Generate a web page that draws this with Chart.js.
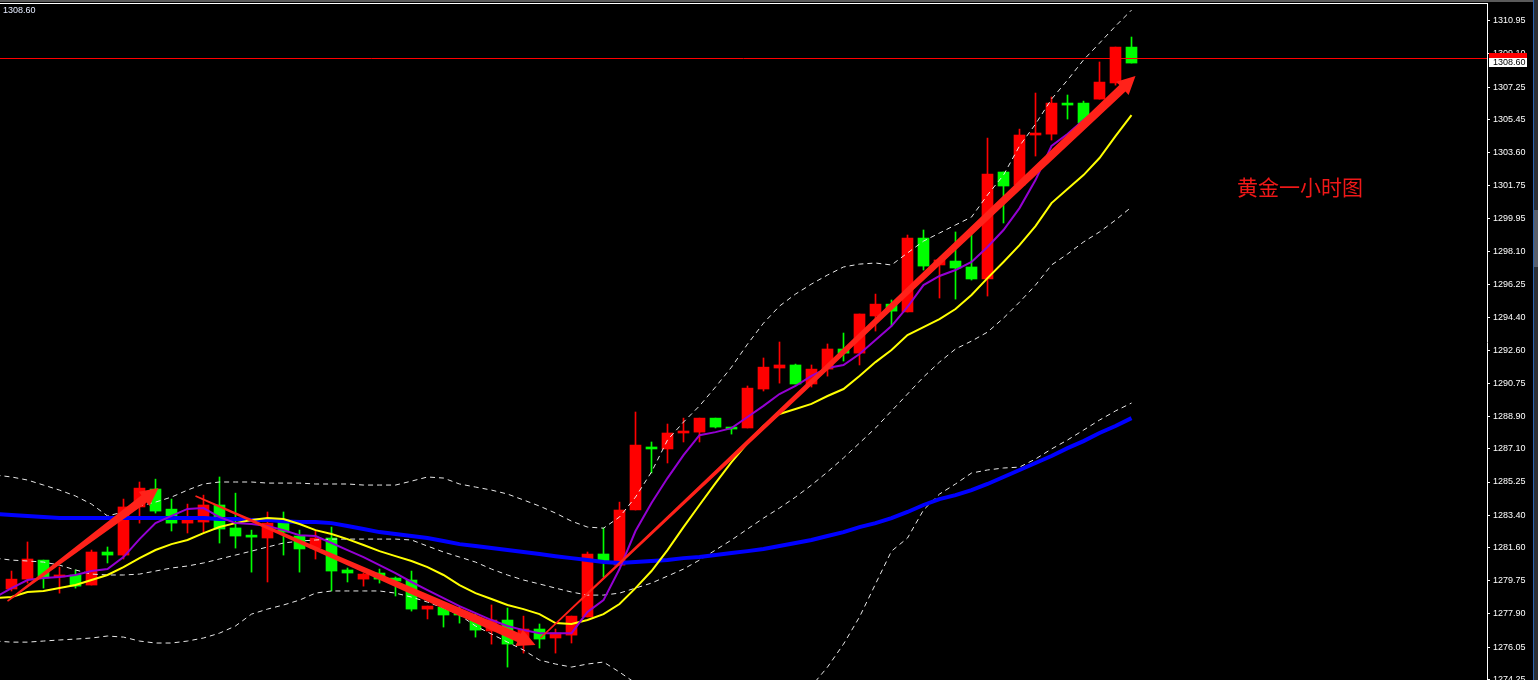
<!DOCTYPE html>
<html>
<head>
<meta charset="utf-8">
<script src="https://cdn.jsdelivr.net/npm/chart.js@4.4.1/dist/chart.umd.min.js"></script>
<style>
    html, body { margin: 0; padding: 0; background: #000; overflow: hidden; }
    #gold_h1_chart { display: block; }
</style>
</head>
<body>
<canvas id="gold_h1_chart" width="1538" height="680"></canvas>
<script>
// H1 candles, bar 0 = first full candle on the left
const opens = [1279.29, 1279.84, 1280.90, 1279.96, 1280.07, 1279.51, 1281.35, 1281.18, 1283.86, 1284.86,
    1283.74, 1282.96, 1283.02, 1283.97, 1282.69, 1282.29, 1282.13, 1283.13, 1282.24, 1281.57,
    1282.13, 1280.35, 1279.84, 1280.18, 1279.90, 1279.79, 1278.17, 1278.28, 1278.01, 1277.56,
    1276.95, 1277.56, 1276.56, 1277.06, 1276.56, 1276.72, 1277.73, 1281.24, 1280.62, 1283.69,
    1287.20, 1287.09, 1287.98, 1288.03, 1288.81, 1288.31, 1288.26, 1290.43, 1291.60, 1291.77,
    1290.71, 1291.54, 1292.66, 1292.43, 1294.50, 1295.16, 1294.72, 1298.84, 1297.34, 1297.56,
    1297.23, 1296.56, 1302.52, 1301.79, 1304.58, 1304.63, 1306.31, 1306.36, 1306.58, 1307.48,
    1309.48];
const highs = [1280.29, 1281.91, 1280.90, 1280.51, 1280.35, 1281.46, 1281.63, 1284.30, 1285.25, 1285.41,
    1284.30, 1284.02, 1284.52, 1285.53, 1284.63, 1282.57, 1283.58, 1283.58, 1282.57, 1282.52,
    1282.74, 1280.46, 1280.18, 1280.40, 1279.96, 1280.29, 1278.34, 1278.40, 1278.28, 1277.89,
    1278.40, 1278.23, 1277.78, 1277.34, 1277.06, 1277.78, 1281.35, 1282.69, 1284.13, 1289.15,
    1287.48, 1288.48, 1288.81, 1288.81, 1288.81, 1288.31, 1290.60, 1292.16, 1293.05, 1291.82,
    1291.77, 1292.94, 1293.55, 1294.61, 1295.72, 1295.39, 1299.01, 1299.29, 1297.62, 1299.18,
    1299.01, 1304.41, 1302.52, 1304.91, 1306.92, 1306.70, 1306.81, 1306.47, 1308.65, 1309.48,
    1310.04];
const lows = [1279.18, 1279.62, 1279.34, 1279.06, 1279.34, 1279.51, 1280.74, 1280.96, 1282.96, 1283.52,
    1282.52, 1282.41, 1282.46, 1281.85, 1281.57, 1280.23, 1279.68, 1281.18, 1280.23, 1280.96,
    1279.18, 1279.68, 1279.45, 1279.62, 1278.90, 1278.06, 1277.62, 1277.17, 1277.39, 1276.61,
    1276.22, 1274.94, 1275.72, 1276.00, 1275.72, 1276.28, 1277.73, 1279.96, 1280.62, 1283.69,
    1285.75, 1286.31, 1287.48, 1287.48, 1288.26, 1287.92, 1288.26, 1290.32, 1290.76, 1290.71,
    1290.54, 1291.15, 1291.99, 1291.77, 1293.66, 1293.94, 1294.72, 1297.06, 1295.50, 1295.44,
    1296.50, 1295.61, 1299.68, 1301.79, 1303.41, 1304.30, 1305.47, 1305.25, 1306.58, 1307.36,
    1308.59];
const closes = [1279.84, 1280.96, 1279.90, 1280.07, 1279.45, 1281.35, 1281.18, 1283.86, 1284.91, 1283.63,
    1282.96, 1283.13, 1283.97, 1282.63, 1282.24, 1282.18, 1282.96, 1282.46, 1281.52, 1282.13,
    1280.29, 1280.18, 1280.12, 1279.84, 1279.73, 1278.17, 1278.34, 1277.84, 1277.84, 1277.00,
    1277.56, 1276.22, 1277.06, 1276.50, 1276.84, 1277.78, 1281.24, 1280.79, 1283.69, 1287.31,
    1287.09, 1287.98, 1288.09, 1288.81, 1288.31, 1288.20, 1290.48, 1291.65, 1291.77, 1290.71,
    1291.54, 1292.66, 1292.43, 1294.61, 1295.16, 1294.77, 1298.84, 1297.28, 1297.62, 1297.17,
    1296.56, 1302.41, 1301.74, 1304.58, 1304.69, 1306.36, 1306.25, 1305.25, 1307.53, 1309.48,
    1308.59];

// indicator lines, first value belongs to bar -1 (cut at left edge)
const lineStart = -1;
const ma5 = [1278.84, 1279.34, 1279.79, 1279.90, 1279.96, 1280.07, 1280.29, 1280.40, 1281.07, 1282.07,
    1282.96, 1283.36, 1283.75, 1283.80, 1283.30, 1282.96, 1282.91, 1282.80, 1282.57, 1282.29,
    1282.24, 1281.85, 1281.46, 1281.07, 1280.62, 1280.18, 1279.68, 1279.23, 1278.78, 1278.34,
    1277.95, 1277.56, 1277.23, 1277.00, 1276.83, 1276.83, 1276.83, 1278.01, 1278.67, 1280.40,
    1282.52, 1284.08, 1285.47, 1286.75, 1287.86, 1288.03, 1288.25, 1288.87, 1289.49, 1290.15,
    1290.60, 1291.16, 1291.60, 1291.77, 1292.38, 1293.16, 1293.94, 1295.00, 1296.22, 1296.73,
    1297.06, 1297.51, 1298.34, 1299.29, 1300.51, 1302.07, 1303.97, 1304.64, 1305.41, 1306.08,
    1306.98, 1307.42];
const ma10 = [1278.78, 1278.84, 1279.12, 1279.18, 1279.34, 1279.51, 1279.79, 1280.07, 1280.51, 1281.01,
    1281.46, 1281.79, 1282.02, 1282.40, 1282.74, 1282.96, 1283.13, 1283.24, 1283.19, 1282.91,
    1282.57, 1282.35, 1282.07, 1281.74, 1281.40, 1281.12, 1280.85, 1280.51, 1280.07, 1279.51,
    1279.06, 1278.73, 1278.40, 1278.17, 1277.89, 1277.39, 1277.34, 1277.56, 1277.89, 1278.45,
    1279.34, 1280.29, 1281.46, 1282.74, 1283.97, 1285.19, 1286.36, 1287.42, 1288.37, 1289.04,
    1289.32, 1289.60, 1290.04, 1290.43, 1291.16, 1291.93, 1292.60, 1293.44, 1293.88, 1294.33,
    1294.89, 1295.67, 1296.61, 1297.51, 1298.45, 1299.51, 1300.79, 1301.57, 1302.35, 1303.30,
    1304.52, 1305.69];
const maLong = [1283.47, 1283.41, 1283.36, 1283.30, 1283.24, 1283.24, 1283.24, 1283.24, 1283.24, 1283.24,
    1283.24, 1283.24, 1283.24, 1283.24, 1283.19, 1283.19, 1283.13, 1283.13, 1283.07, 1283.02,
    1283.02, 1282.96, 1282.80, 1282.63, 1282.46, 1282.35, 1282.24, 1282.13, 1281.96, 1281.79,
    1281.68, 1281.57, 1281.46, 1281.35, 1281.24, 1281.12, 1281.01, 1280.90, 1280.79, 1280.74,
    1280.79, 1280.85, 1280.90, 1281.01, 1281.07, 1281.18, 1281.29, 1281.40, 1281.52, 1281.68,
    1281.85, 1282.02, 1282.24, 1282.46, 1282.74, 1282.96, 1283.24, 1283.58, 1283.97, 1284.30,
    1284.52, 1284.80, 1285.14, 1285.53, 1285.92, 1286.31, 1286.70, 1287.14, 1287.53, 1287.98,
    1288.37, 1288.81];
const bbUpper = [1285.64, 1285.53, 1285.36, 1285.08, 1284.80, 1284.47, 1284.02, 1283.36, 1283.58, 1283.91,
    1284.13, 1284.41, 1284.80, 1285.14, 1285.25, 1285.25, 1285.25, 1285.19, 1285.19, 1285.19,
    1285.14, 1285.14, 1285.14, 1285.08, 1285.08, 1285.08, 1285.30, 1285.53, 1285.47, 1285.14,
    1284.97, 1284.80, 1284.58, 1284.25, 1283.91, 1283.52, 1283.07, 1282.74, 1282.68, 1283.30,
    1284.41, 1285.81, 1287.59, 1288.59, 1289.49, 1290.54, 1291.65, 1292.93, 1294.10, 1295.05,
    1295.72, 1296.28, 1296.78, 1297.23, 1297.39, 1297.45, 1297.34, 1298.01, 1298.67, 1299.12,
    1299.57, 1300.01, 1301.24, 1302.35, 1303.97, 1305.19, 1306.58, 1307.64, 1308.76, 1309.70,
    1310.65, 1311.54];
const bbMiddle = [1281.01, 1280.90, 1280.85, 1280.79, 1280.62, 1280.35, 1280.12, 1280.07, 1280.07, 1280.12,
    1280.29, 1280.46, 1280.57, 1280.74, 1280.96, 1281.18, 1281.40, 1281.63, 1281.85, 1281.96,
    1282.02, 1282.07, 1282.07, 1282.07, 1282.07, 1282.07, 1282.02, 1281.68, 1281.35, 1281.07,
    1280.79, 1280.40, 1280.07, 1279.79, 1279.57, 1279.34, 1279.12, 1278.95, 1278.95, 1279.06,
    1279.34, 1279.62, 1280.01, 1280.40, 1280.90, 1281.46, 1282.02, 1282.63, 1283.24, 1283.80,
    1284.41, 1285.08, 1285.81, 1286.59, 1287.42, 1288.26, 1289.21, 1290.15, 1291.10, 1291.93,
    1292.66, 1293.10, 1293.60, 1294.38, 1295.27, 1296.22, 1297.34, 1297.95, 1298.62, 1299.18,
    1299.84, 1300.57];
const bbLower = [1276.39, 1276.33, 1276.33, 1276.39, 1276.45, 1276.50, 1276.56, 1276.67, 1276.61, 1276.39,
    1276.28, 1276.28, 1276.39, 1276.56, 1276.83, 1277.23, 1277.89, 1278.17, 1278.40, 1278.67,
    1279.06, 1279.18, 1279.18, 1279.18, 1279.18, 1279.06, 1278.84, 1278.56, 1278.23, 1277.84,
    1277.23, 1276.78, 1276.33, 1275.89, 1275.33, 1275.11, 1274.94, 1275.11, 1275.22, 1274.66,
    1274.05, 1273.44, 1272.83, 1272.43, 1272.27, 1272.32, 1272.38, 1272.38, 1272.43, 1272.60,
    1273.10, 1273.88, 1274.94, 1276.22, 1277.73, 1279.57, 1281.40, 1282.13, 1283.69, 1284.58,
    1285.14, 1285.75, 1285.92, 1286.03, 1286.08, 1286.53, 1287.09, 1287.59, 1288.14, 1288.70,
    1289.21, 1289.65];

const yTicks = [1310.95, 1309.10, 1307.25, 1305.45, 1303.60, 1301.75, 1299.95, 1298.10, 1296.25, 1294.40,
    1292.60, 1290.75, 1288.90, 1287.10, 1285.25, 1283.40, 1281.60, 1279.75, 1277.90, 1276.05, 1274.25];
const lastPrice = 1308.60;
const priceLine = 1308.85;

// hand drawn arrows: [from bar, from price, to bar, to price]
const arrows = [
    [-0.25, 1278.62, 9.19, 1284.91],
    [11.5, 1284.47, 32.75, 1276.17],
    [33.06, 1276.56, 70.25, 1307.87]
];
const title = "黄金一小时图";
const titleBar = 76.6;
const titlePrice = 1301.69;

const UP = "#ff0000", DOWN = "#00ff00";
const candleColors = opens.map((o, i) => closes[i] >= o ? UP : DOWN);
const toLine = arr => arr.map((v, k) => ({x: k + lineStart, y: v}));

const chartDecor = {
    id: "chartDecor",
    beforeDraw(chart) {
        let c = chart.ctx;
        c.save();
        c.fillStyle = "#000";
        c.fillRect(0, 0, chart.width, chart.height);
        c.restore();
    },
    afterDatasetsDraw(chart) {
        let c = chart.ctx, xs = chart.scales.x, ys = chart.scales.y, area = chart.chartArea;
        c.save();
        c.beginPath();
        c.rect(area.left, area.top, area.right - area.left, area.bottom - area.top);
        c.clip();

        // horizontal price line
        let ly = Math.round(ys.getPixelForValue(priceLine)) + 0.5;
        c.strokeStyle = "#ff0000";
        c.lineWidth = 1;
        c.beginPath();
        c.moveTo(area.left, ly);
        c.lineTo(area.right, ly);
        c.stroke();

        // tapered arrows
        c.fillStyle = "rgb(255,34,26)";
        arrows.forEach(a => {
            let x0 = xs.getPixelForValue(a[0]), y0 = ys.getPixelForValue(a[1]);
            let x1 = xs.getPixelForValue(a[2]), y1 = ys.getPixelForValue(a[3]);
            let len = Math.hypot(x1 - x0, y1 - y0);
            let ux = (x1 - x0) / len, uy = (y1 - y0) / len;
            let nx = -uy, ny = ux;
            let headLen = 18, headHalf = 9, w0 = 0.8, w1 = 4.5;
            let bx = x1 - ux * headLen, by = y1 - uy * headLen;
            c.beginPath();
            c.moveTo(x0 + nx * w0, y0 + ny * w0);
            c.lineTo(bx + nx * w1, by + ny * w1);
            c.lineTo(bx + nx * headHalf, by + ny * headHalf);
            c.lineTo(x1, y1);
            c.lineTo(bx - nx * headHalf, by - ny * headHalf);
            c.lineTo(bx - nx * w1, by - ny * w1);
            c.lineTo(x0 - nx * w0, y0 - ny * w0);
            c.closePath();
            c.fill();
        });

        c.fillStyle = "#f01818";
        c.font = '21px "Noto Sans CJK SC"';
        c.textBaseline = "middle";
        c.fillText(title, xs.getPixelForValue(titleBar), ys.getPixelForValue(titlePrice));
        c.restore();
    },
    afterDraw(chart) {
        let c = chart.ctx, ys = chart.scales.y, area = chart.chartArea;
        c.save();
        // window frame bits
        c.fillStyle = "#5a5a5a";
        c.fillRect(0, 0, chart.width, 2);
        c.fillStyle = "#ffffff";
        c.fillRect(0, 3, area.right + 1, 1);
        c.fillStyle = "#2c3036";
        c.fillRect(1533, 0, 5, chart.height);
        c.fillStyle = "#2a64b0";
        c.fillRect(1533, 0, 1, chart.height);
        c.fillStyle = "#59606c";
        c.fillRect(1534, 210, 4, 57);

        // price tags on the axis
        let ly = Math.round(ys.getPixelForValue(priceLine));
        c.fillStyle = "#ff0000";
        c.fillRect(area.right + 2, ly - 5, 38, 5);
        c.fillStyle = "#ffffff";
        c.fillRect(area.right + 2, ly, 38, 9);
        c.font = '9px "Liberation Sans"';
        c.textBaseline = "middle";
        c.fillStyle = "#000";
        c.fillText(lastPrice.toFixed(2), area.right + 6, ly + 5);

        c.fillStyle = "#e6ecff";
        c.fillText(lastPrice.toFixed(2), 3, 11);
        c.restore();
    }
};

let ctx1 = document.getElementById("gold_h1_chart");
let gold_h1_chart = new Chart(ctx1, {
    type: "bar",
    plugins: [chartDecor],
    data: {
        datasets: [
            {type: "line", label: "MA5", data: toLine(ma5), borderColor: "#9400d3", borderWidth: 2,
                pointRadius: 0, tension: 0, order: 1},
            {type: "line", label: "MA10", data: toLine(ma10), borderColor: "#ffff00", borderWidth: 2,
                pointRadius: 0, tension: 0, order: 2},
            {type: "line", label: "MA long", data: toLine(maLong), borderColor: "#0000ff", borderWidth: 4,
                pointRadius: 0, tension: 0, order: 3},
            {type: "line", label: "BB upper", data: toLine(bbUpper), borderColor: "#e8e8e8", borderWidth: 1,
                borderDash: [5, 4], pointRadius: 0, tension: 0, order: 4},
            {type: "line", label: "BB middle", data: toLine(bbMiddle), borderColor: "#e8e8e8", borderWidth: 1,
                borderDash: [5, 4], pointRadius: 0, tension: 0, order: 4},
            {type: "line", label: "BB lower", data: toLine(bbLower), borderColor: "#e8e8e8", borderWidth: 1,
                borderDash: [5, 4], pointRadius: 0, tension: 0, order: 4},
            {label: "wick", data: opens.map((o, i) => ({x: i, y: [lows[i], highs[i]]})),
                backgroundColor: candleColors, barThickness: 1, grouped: false, order: 20},
            {label: "body", data: opens.map((o, i) => ({x: i, y: [o, closes[i]]})),
                backgroundColor: candleColors, barThickness: 11, minBarLength: 2, grouped: false, order: 10}
        ]
    },
    options: {
        responsive: false,
        animation: false,
        devicePixelRatio: 1,
        layout: {padding: {top: 4, left: 0, right: 0, bottom: 0}},
        plugins: {legend: {display: false}, tooltip: {enabled: false}},
        scales: {
            x: {
                type: "linear",
                min: -0.71875,
                max: 92.21875,
                offset: false,
                display: false
            },
            y: {
                position: "right",
                min: 1274.22,
                max: 1311.88,
                afterBuildTicks: s => { s.ticks = yTicks.map(v => ({value: v})); },
                afterFit: s => { s.width = 51; s.paddingTop = 0; s.paddingBottom = 0; },
                grid: {display: true, drawOnChartArea: false, drawTicks: true, tickLength: 3, color: "#ffffff"},
                border: {display: true, color: "#ffffff", width: 1},
                ticks: {
                    color: "#ffffff",
                    padding: 3,
                    autoSkip: false,
                    font: {family: "Liberation Sans", size: 9},
                    callback: v => Number(v).toFixed(2)
                }
            }
        }
    }
});
</script>
</body>
</html>
